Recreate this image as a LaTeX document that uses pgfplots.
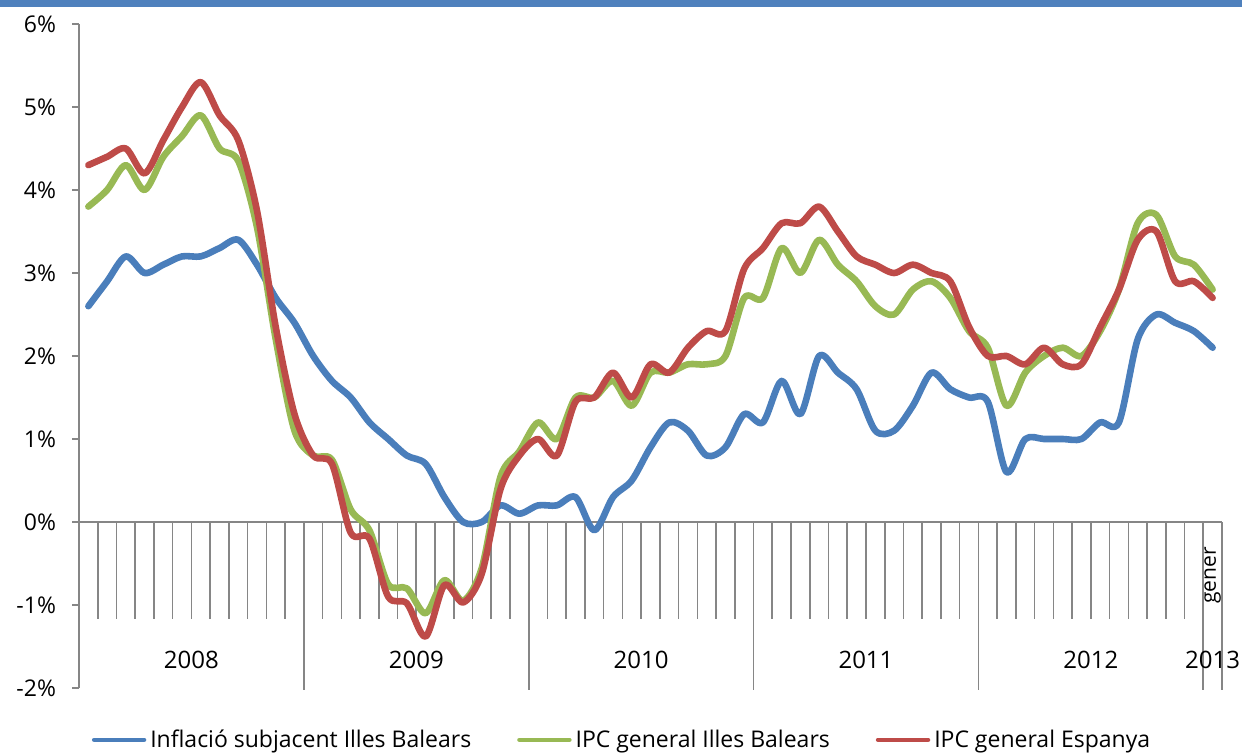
\documentclass[border=0pt]{standalone}
\usepackage{fontspec}
\setmainfont{Open Sans}
\usepackage{pgfplots}
\usepackage{pgfplotstable}
\pgfplotsset{compat=1.18}

\definecolor{serBlue}{HTML}{4A7EBB}
\definecolor{serGreen}{HTML}{98B954}
\definecolor{serRed}{HTML}{BE4B48}
\definecolor{axGray}{HTML}{868686}
\definecolor{barBlue}{HTML}{4F81BD}

% month index (centre of each month cell), Jan 2008 .. Jan 2013
\pgfplotstableread{
m    blue  green  red
0.5  2.6   3.8    4.3
1.5  2.9   4.0    4.4
2.5  3.2   4.3    4.5
3.5  3.0   4.0    4.2
4.5  3.1   4.4    4.6
5.5  3.2   4.65   5.0
6.5  3.2   4.9    5.3
7.5  3.3   4.5    4.9
8.5  3.4   4.35   4.6
9.5  3.1   3.55   3.75
10.5 2.7   2.2    2.35
11.5 2.4   1.1    1.3
12.5 2.0   0.8    0.8
13.5 1.7   0.75   0.7
14.5 1.5   0.15   -0.13
15.5 1.2   -0.1   -0.2
16.5 1.0   -0.75  -0.9
17.5 0.8   -0.8   -0.98
18.5 0.7   -1.1   -1.38
19.5 0.3   -0.7   -0.76
20.5 0.0   -0.95  -0.97
21.5 0.0   -0.55  -0.62
22.5 0.2   0.55   0.4
23.5 0.1   0.85   0.8
24.5 0.2   1.2    1.0
25.5 0.2   1.0    0.8
26.5 0.3   1.5    1.45
27.5 -0.1  1.5    1.5
28.5 0.3   1.7    1.8
29.5 0.5   1.4    1.5
30.5 0.9   1.8    1.9
31.5 1.2   1.8    1.8
32.5 1.1   1.9    2.1
33.5 0.8   1.9    2.3
34.5 0.9   2.0    2.3
35.5 1.3   2.7    3.05
36.5 1.2   2.7    3.3
37.5 1.7   3.3    3.6
38.5 1.3   3.0    3.6
39.5 2.0   3.4    3.8
40.5 1.8   3.1    3.5
41.5 1.6   2.9    3.2
42.5 1.1   2.6    3.1
43.5 1.1   2.5    3.0
44.5 1.4   2.8    3.1
45.5 1.8   2.9    3.0
46.5 1.6   2.7    2.9
47.5 1.5   2.3    2.35
48.5 1.45  2.1    2.0
49.5 0.6   1.4    2.0
50.5 1.0   1.8    1.9
51.5 1.0   2.0    2.1
52.5 1.0   2.1    1.9
53.5 1.0   2.0    1.9
54.5 1.2   2.3    2.35
55.5 1.2   2.8    2.8
56.5 2.2   3.6    3.4
57.5 2.5   3.7    3.5
58.5 2.4   3.2    2.9
59.5 2.3   3.1    2.9
60.5 2.1   2.8    2.7
}\inflacio

\begin{document}
\begin{tikzpicture}
\path[use as bounding box] (0,0) rectangle (621pt,377.5pt);
\fill[barBlue] (0,374pt) rectangle (621pt,377.5pt);
\begin{axis}[
  at={(39.5pt,33.5pt)},anchor=south west,scale only axis,
  width=571.5pt,height=332pt,
  xmin=0,xmax=61,ymin=-2,ymax=6,
  axis x line*=middle,axis y line*=left,
  xtick=\empty,ytick={-2,...,6},
  yticklabel={\pgfmathparse{int(\tick)}\pgfmathresult\%},
  tick align=outside,major tick length=3.5pt,
  tick style={axGray,line width=0.8pt},
  axis line style={axGray,line width=0.8pt},
  yticklabel style={font=\fontsize{11.5}{13}\selectfont,xshift=-4.5pt},
  clip=false,
  legend columns=3,
  legend style={draw=none,fill=none,at={(0.476,-0.078)},anchor=center,
    font=\fontsize{11.5}{13}\selectfont,
    /tikz/every even column/.append style={column sep=21pt}},
  legend cell align=left,
  legend image code/.code={\draw[#1,line width=2.2pt] (0pt,0pt) -- (25pt,0pt);},
]
% month and year separators of the category axis
\pgfplotsinvokeforeach{1,...,60}{
  \draw[axGray,line width=0.8pt] (axis cs:#1,0) -- (axis cs:#1,-1.17);
}
\pgfplotsinvokeforeach{12,24,36,48,60,61}{
  \draw[axGray,line width=0.8pt] (axis cs:#1,0) -- (axis cs:#1,-2.02);
}
\addplot[serBlue,line width=3.3pt,smooth,line cap=round,line join=round] table[x=m,y=blue]{\inflacio};
\addplot[serGreen,line width=3.3pt,smooth,line cap=round,line join=round] table[x=m,y=green]{\inflacio};
\addplot[serRed,line width=3.3pt,smooth,line cap=round,line join=round] table[x=m,y=red]{\inflacio};
\legend{Inflació subjacent Illes Balears,IPC general Illes Balears,IPC general Espanya}
\node[font=\fontsize{12}{14}\selectfont] at (axis cs:6,-1.66) {2008};
\node[font=\fontsize{12}{14}\selectfont] at (axis cs:18,-1.66) {2009};
\node[font=\fontsize{12}{14}\selectfont] at (axis cs:30,-1.66) {2010};
\node[font=\fontsize{12}{14}\selectfont] at (axis cs:42,-1.66) {2011};
\node[font=\fontsize{12}{14}\selectfont] at (axis cs:54,-1.66) {2012};
\node[font=\fontsize{12}{14}\selectfont] at (axis cs:60.5,-1.66) {2013};
\node[rotate=90,anchor=east,inner sep=0pt,font=\fontsize{10.5}{12}\selectfont] at (axis cs:60.5,-0.3) {gener};
\end{axis}
\end{tikzpicture}
\end{document}
